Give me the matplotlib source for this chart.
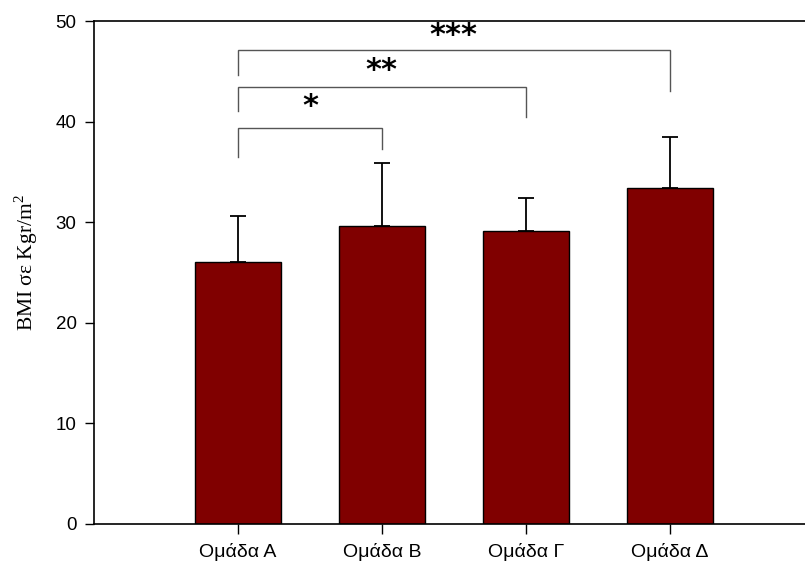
import numpy as np
from matplotlib import pyplot as plt

plt.rcParams['font.family'] = ['Liberation Sans', 'DejaVu Sans']
plt.rcParams['mathtext.fontset'] = 'custom'
plt.rcParams['mathtext.rm'] = 'Liberation Serif'

#----------------- Données -----------------#
groups = ['Ομάδα Α', 'Ομάδα Β', 'Ομάδα Γ', 'Ομάδα Δ']
means = [26.0, 29.6, 29.1, 33.4]
sds = [4.65, 6.3, 3.3, 5.1]

# comparaisons significatives (groupe 0 vs 1, 2, 3)
pairs = [(0, 1), (0, 2), (0, 3)]
bracket_top = [39.4, 43.4, 47.1]
left_drop = [36.45, 41.1, 44.6]
right_drop = [37.25, 40.45, 43.0]
stars = ['*', '**', '***']
star_y = [41.5, 45.1, 48.6]

#----------------- Figure -----------------#
fig = plt.figure(figsize=(8.05, 5.65), dpi=100)
ax = fig.add_axes([94/805, 41/565, 711/805, 503/565])

x = np.arange(len(groups))
ax.bar(x, means, width=0.6, color='#800000', edgecolor='black', linewidth=1.0, zorder=2)
ax.errorbar(x, means, yerr=[np.zeros(len(sds)), sds], fmt='none', ecolor='black',
            elinewidth=1.3, capsize=5.8, capthick=1.3, zorder=3)

for (i, j), top, ld, rd, s, sy in zip(pairs, bracket_top, left_drop, right_drop, stars, star_y):
    ax.plot([x[i], x[i], x[j], x[j]], [ld, top, top, rd], color='#555555', lw=1.0,
            solid_joinstyle='miter', zorder=3)
    ax.text((x[i] + x[j]) / 2, sy, s, ha='center', va='center', fontsize=22,
            fontweight='bold', family='DejaVu Sans')

ax.set_xlim(-1.0, 3.94)
ax.set_ylim(0, 50)
ax.set_yticks([0, 10, 20, 30, 40, 50])
ax.set_xticks(x)
ax.set_xticklabels(groups)
ax.tick_params(axis='y', direction='out', length=6.5, width=1.0, pad=6, labelsize=13.5)
ax.tick_params(axis='x', direction='out', length=7.5, width=1.0, pad=6, labelsize=14)

ax.spines['right'].set_visible(False)
for sp in ['left', 'top', 'bottom']:
    ax.spines[sp].set_linewidth(1.2)

ax.set_ylabel(r'BMI σε Kgr/m$^2$', family=['Liberation Serif', 'DejaVu Serif'],
              fontsize=15.5)
ax.yaxis.set_label_coords(-0.0755, 0.52)

plt.savefig('out.png', dpi=100)
